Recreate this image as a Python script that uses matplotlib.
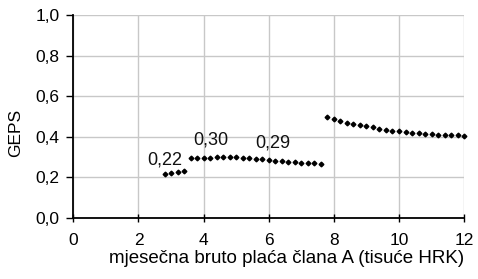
import matplotlib
matplotlib.use("Agg")
import matplotlib.pyplot as plt
import numpy as np

plt.rcParams['font.family'] = ['Liberation Sans', 'DejaVu Sans']

# segment 1
x1 = [2.8, 3.0, 3.2, 3.4]
y1 = [0.218, 0.222, 0.227, 0.233]
# segment 2
x2 = [3.6, 3.8, 4.0, 4.2, 4.4, 4.6, 4.8, 5.0, 5.2, 5.4, 5.6, 5.8, 6.0, 6.2,
      6.4, 6.6, 6.8, 7.0, 7.2, 7.4, 7.6]
y2 = [0.295, 0.295, 0.297, 0.297, 0.298, 0.298, 0.298, 0.298, 0.297, 0.295,
      0.292, 0.289, 0.285, 0.282, 0.280, 0.277, 0.275, 0.272, 0.270, 0.269, 0.264]
# segment 3
x3 = [7.8, 8.0, 8.2, 8.4, 8.6, 8.8, 9.0, 9.2, 9.4, 9.6, 9.8, 10.0, 10.2, 10.4,
      10.6, 10.8, 11.0, 11.2, 11.4, 11.6, 11.8, 12.0]
y3 = [0.495, 0.487, 0.477, 0.470, 0.464, 0.457, 0.451, 0.446, 0.439, 0.434,
      0.430, 0.426, 0.423, 0.420, 0.418, 0.415, 0.413, 0.411, 0.410, 0.408,
      0.407, 0.405]

labels = ["0,22", "0,30", "0,29"]
label_x = [2.8, 4.23, 6.14]
label_y = [0.287, 0.385, 0.369]

xticks = [0, 2, 4, 6, 8, 10, 12]
yticks = [0.0, 0.2, 0.4, 0.6, 0.8, 1.0]
yticklabels = ["0,0", "0,2", "0,4", "0,6", "0,8", "1,0"]

fig = plt.figure(figsize=(4.78, 2.79), dpi=100)
ax = fig.add_axes([0.1534, 0.219, 0.971 - 0.1534, 0.946 - 0.219])

for xs, ys in [(x1, y1), (x2, y2), (x3, y3)]:
    ax.plot(xs, ys, linestyle='none', marker='D', markersize=2.4,
            color='black', clip_on=False, zorder=3)

for t, lx, ly in zip(labels, label_x, label_y):
    ax.text(lx, ly, t, ha='center', va='center', fontsize=13, color='#111111')

ax.set_xlim(0, 12)
ax.set_ylim(0, 1.0)
ax.set_xticks(xticks)
ax.set_xticklabels([str(v) for v in xticks])
ax.set_yticks(yticks)
ax.set_yticklabels(yticklabels)

ax.grid(True, color='#c8c8c8', linewidth=1.0)
ax.set_axisbelow(True)
for s in ['top', 'right']:
    ax.spines[s].set_visible(False)
for s in ['left', 'bottom']:
    ax.spines[s].set_color('black')
    ax.spines[s].set_linewidth(1.3)

ax.tick_params(axis='x', direction='inout', length=6, width=1.0, labelsize=12.5, pad=8)
ax.tick_params(axis='y', direction='out', length=5, width=1.0, labelsize=12.5, pad=5)

ax.set_xlabel("mjesečna bruto plaća člana A (tisuće HRK)", fontsize=13.5, loc='right', labelpad=1)
ax.set_ylabel("GEPS", fontsize=12.5)
ax.yaxis.set_label_coords(-0.128, 0.42)

fig.savefig("out.png", dpi=100)
